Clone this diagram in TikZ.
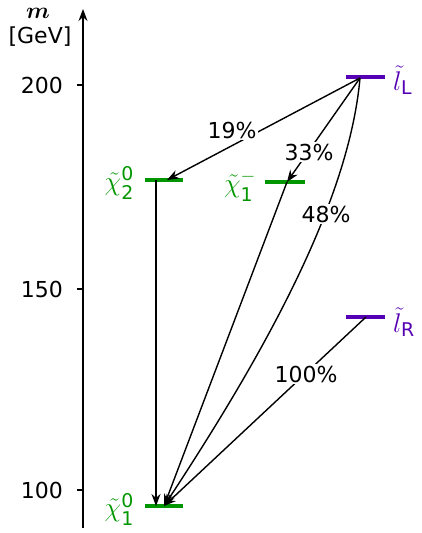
\RequirePackage{fix-cm}
\documentclass[tikz,border=0pt]{standalone}
\usepackage{amsmath,bm}
\usepackage{fontspec}
\setmainfont{DejaVu Sans}
\setsansfont{DejaVu Sans}
\usetikzlibrary{arrows.meta}
\definecolor{lvl}{RGB}{0,150,0}
\definecolor{slep}{RGB}{85,0,180}
\begin{document}
\begin{tikzpicture}[x=1pt,y=-1pt,
  every node/.style={font=\fontsize{22}{25}\selectfont},
  decay/.style={-{Stealth[length=12pt,width=9pt]},line width=1.4pt,black},
  brlabel/.style={fill=white,inner sep=2pt},
  neutlevel/.style={line width=4.5pt,lvl},
  sleplevel/.style={line width=4.5pt,slep},
  mathlab/.style={font=\fontsize{27}{30}\selectfont,inner sep=0pt}]
\useasboundingbox (0,0) rectangle (422,533);
% axis
\coordinate (ax0) at (83,528);
\coordinate (ax1) at (83,9);
\draw[line width=1.4pt,-{Stealth[length=12pt,width=9pt]}] (ax0) -- (ax1);
\foreach \y/\t in {85/200,289/150,490/100}{
  \draw[line width=1.4pt] (77,\y) -- (83,\y);
  \node[anchor=east,inner sep=0pt] (t\t) at (63,\y) {\t};
}
\node[font=\fontsize{23}{25}\selectfont,inner sep=0pt] (mlab) at (38,13) {$\bm{m}$};
\node (unit) at (40,37) {[GeV]};
% levels
\draw[sleplevel] (346,77) -- (385,77);
\draw[neutlevel] (145,180) -- (183,180);
\draw[neutlevel] (265,182) -- (305,182);
\draw[sleplevel] (346,317) -- (385,317);
\draw[neutlevel] (145,506) -- (183,506);
\coordinate (lL) at (360,78);
\coordinate (lR) at (366,317);
\coordinate (n2top) at (156,180);
\coordinate (n2) at (167,180);
\coordinate (c1) at (287,182);
\coordinate (n1a) at (156,506);
\coordinate (n1b) at (164,506);
% labels
\node[anchor=west,slep,mathlab] (LLab) at (393,80) {$\tilde{l}_{\text{L}}$};
\node[anchor=west,slep,mathlab] (RLab) at (393,322) {$\tilde{l}_{\text{R}}$};
\node[anchor=east,lvl,mathlab] (N2Lab) at (134,183) {$\tilde{\chi}^{\text{0}}_{\text{2}}$};
\node[anchor=east,lvl,mathlab] (C1Lab) at (256,186) {$\tilde{\chi}^{-}_{\text{1}}$};
\node[anchor=east,lvl,mathlab] (N1Lab) at (134,509) {$\tilde{\chi}^{\text{0}}_{\text{1}}$};
% decays
\draw[decay] (lL) -- (n2);
\draw[decay] (lL) -- (c1);
\draw[decay] (lL) .. controls (350,190) and (280,330) .. (n1b);
\draw[decay] (n2top) -- (n1a);
\draw[decay] (c1) -- (n1b);
\draw[decay] (lR) -- (n1b);
\node[brlabel] (b19) at (232,130) {19\%};
\node[brlabel] (b33) at (309,152) {33\%};
\node[brlabel] (b48) at (326,214) {48\%};
\node[brlabel] (b100) at (306,374) {100\%};
\end{tikzpicture}
\end{document}
